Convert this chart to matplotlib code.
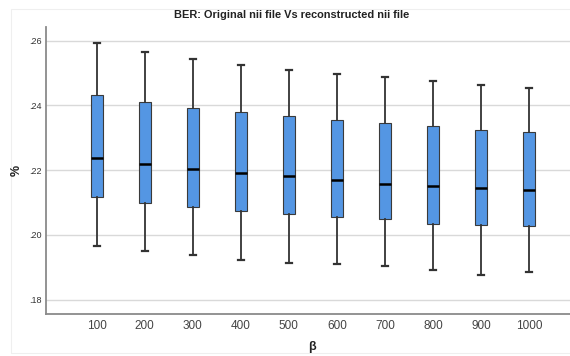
import matplotlib
matplotlib.use("Agg")
import matplotlib.pyplot as plt
from matplotlib.patches import Rectangle

plt.rcParams['font.family'] = ['Liberation Sans', 'DejaVu Sans']

beta = ['100', '200', '300', '400', '500', '600', '700', '800', '900', '1000']
whis_hi = [.2594, .2564, .2542, .2526, .2510, .2497, .2488, .2475, .2464, .2455]
q3 = [.2433, .2411, .2391, .2380, .2367, .2355, .2347, .2336, .2324, .2318]
med = [.2237, .2220, .2203, .2190, .2181, .2169, .2158, .2150, .2145, .2138]
q1 = [.2117, .2098, .2085, .2073, .2065, .2056, .2048, .2034, .2031, .2027]
whis_lo = [.1965, .1949, .1937, .1924, .1914, .1909, .1904, .1892, .1876, .1886]

stats = []
for i in range(len(beta)):
    stats.append(dict(label=beta[i], whislo=whis_lo[i], q1=q1[i], med=med[i],
                      q3=q3[i], whishi=whis_hi[i], fliers=[]))

fig = plt.figure(figsize=(5.7, 3.56), dpi=100)
fig.patches.append(Rectangle((11/570, 3/356), 1, 344/356, transform=fig.transFigure,
                             fill=False, edgecolor='#efefef', lw=0.8))
ax = fig.add_axes([45.7/570, 1-314/356, 1-45.7/570, (314-27)/356])

ax.bxp(stats, positions=range(1, 11), widths=0.25, patch_artist=True,
       boxprops=dict(facecolor='#5496e3', edgecolor='#3a3a3a', lw=0.8),
       medianprops=dict(color='black', lw=1.8),
       whiskerprops=dict(color='#333333', lw=1.3),
       capprops=dict(color='#333333', lw=1.6),
       capwidths=0.13, zorder=3)

ax.set_xlim(-0.06, 10.85)
ax.set_ylim(.1756, .2642)
ax.set_yticks([.18, .20, .22, .24, .26])
ax.set_yticklabels(['.18', '.20', '.22', '.24', '.26'])
ax.grid(axis='y', color='#d9d9d9', lw=1)
ax.set_axisbelow(True)
ax.tick_params(axis='y', length=0, labelsize=6.5, colors='#333333', pad=3)
ax.tick_params(axis='x', length=0, labelsize=8.5, colors='#444444', pad=4)
for s in ['top', 'right']:
    ax.spines[s].set_visible(False)
for s in ['left', 'bottom']:
    ax.spines[s].set_color('#8a8a8a')
    ax.spines[s].set_linewidth(1.3)

fig.text(292/570, 1-15/356, 'BER: Original nii file Vs reconstructed nii file',
         ha='center', va='center', fontsize=7.9, fontweight='bold', color='#222222')
fig.text(17/570, 1-170/356, '%', ha='center', va='center', rotation=90,
         fontsize=9, fontweight='bold', color='#222222')
fig.text(312/570, 1-347/356, 'β', ha='center', va='center',
         fontsize=9, fontweight='bold', color='#222222')

fig.savefig('out.png', dpi=100)
